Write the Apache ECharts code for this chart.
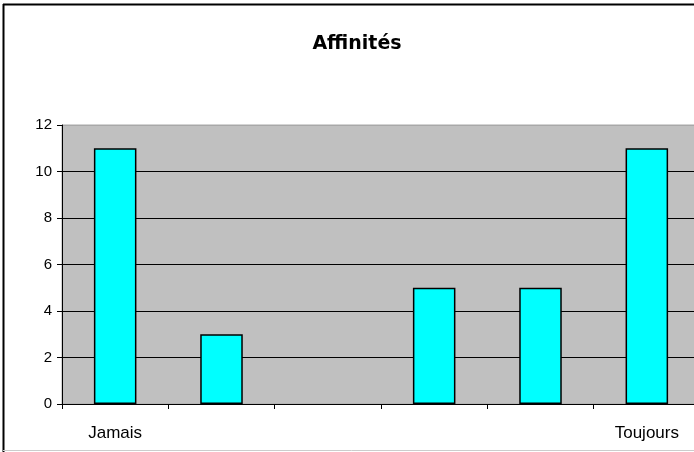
<!DOCTYPE html>
<html><head><meta charset="utf-8">
<script src="https://cdn.jsdelivr.net/npm/echarts@6/dist/echarts.min.js"></script>
<style>html,body{margin:0;padding:0;background:#fff;overflow:hidden}#c{width:700px;height:452px}</style>
</head><body><div id="c"></div>
<script>
var categories = ['Jamais', '', '', '', '', 'Toujours'];
var values = [11, 3, 0, 5, 5, 11];
var yTicks = [0, 2, 4, 6, 8, 10, 12];
var titleText = 'Affinités';

var chart = echarts.init(document.getElementById('c'), null, {renderer: 'canvas'});
chart.setOption({
  animation: false,
  backgroundColor: '#fff',
  title: {
    text: titleText, left: 352, top: 30, textAlign: 'center',
    textStyle: {fontFamily: '"Comic Sans MS", "DejaVu Sans", sans-serif', fontWeight: 'bold', fontSize: 19, color: '#000'}
  },
  grid: {left: 62, right: 0, top: 125, height: 279, show: true, backgroundColor: '#C0C0C0', borderColor: '#a8a8a8', borderWidth: 1},
  xAxis: {
    type: 'category', data: categories,
    axisLine: {lineStyle: {color: '#000', width: 1}},
    axisTick: {show: true, length: 5, lineStyle: {color: '#000'}, alignWithLabel: false},
    axisLabel: {color: '#000', fontFamily: 'Arial, "Liberation Sans", sans-serif', fontSize: 17, margin: 21, interval: 0}
  },
  yAxis: {
    type: 'value', min: yTicks[0], max: yTicks[yTicks.length - 1], interval: 2,
    axisLine: {show: true, lineStyle: {color: '#000', width: 1}},
    axisTick: {show: true, length: 5, lineStyle: {color: '#000'}},
    axisLabel: {color: '#000', fontFamily: 'Arial, "Liberation Sans", sans-serif', fontSize: 15, margin: 10},
    splitLine: {show: true, lineStyle: {color: ['#000', '#000', '#000', '#000', '#000', '#000', '#a8a8a8'], width: 1}}
  },
  series: [{
    type: 'bar', barWidth: '40%',
    data: values.map(function (v) { return v === 0 ? {value: v, itemStyle: {borderWidth: 0}} : v; }),
    itemStyle: {color: '#00FFFF', borderColor: '#000', borderWidth: 1.5}
  }],
  graphic: [
    {type: 'line', shape: {x1: 3.5, y1: 4, x2: 3.5, y2: 452}, style: {stroke: '#000', lineWidth: 2}},
    {type: 'line', shape: {x1: 3, y1: 4.5, x2: 700, y2: 4.5}, style: {stroke: '#000', lineWidth: 2}},
    {type: 'line', shape: {x1: 3, y1: 450.5, x2: 700, y2: 450.5}, style: {stroke: '#ccc', lineWidth: 1}}
  ]
});
</script></body></html>
